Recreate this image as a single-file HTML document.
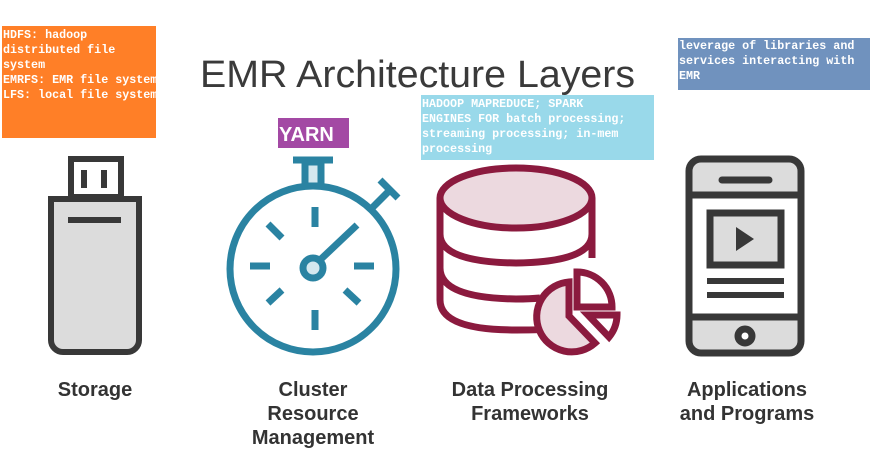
<!DOCTYPE html>
<html><head><meta charset="utf-8"><style>
html,body{margin:0;padding:0;background:#fff;width:870px;height:456px;overflow:hidden}
svg{display:block}
.m{font-family:"Liberation Mono",monospace;font-weight:bold;font-size:11.7px;fill:#fff}
.l{font-family:"Liberation Sans",sans-serif;font-weight:bold;font-size:20px;fill:#333;text-anchor:middle}
</style></head><body>
<svg width="870" height="456" viewBox="0 0 870 456" xmlns="http://www.w3.org/2000/svg">
<!-- orange note -->
<rect x="2" y="26" width="154" height="112" fill="#ff7f27"/>
<text class="m" x="3" y="38">HDFS: hadoop</text>
<text class="m" x="3" y="53">distributed file</text>
<text class="m" x="3" y="68">system</text>
<text class="m" x="3" y="83">EMRFS: EMR file system</text>
<text class="m" x="3" y="98">LFS: local file system</text>
<!-- title -->
<text x="200" y="87" font-family="Liberation Sans,sans-serif" font-size="38" fill="#3a3a3a" textLength="435" lengthAdjust="spacingAndGlyphs">EMR Architecture Layers</text>
<!-- yarn -->
<rect x="278" y="118" width="71" height="30" fill="#a349a4"/>
<text x="279" y="141" font-family="Liberation Sans,sans-serif" font-weight="bold" font-size="20" fill="#fff">YARN</text>
<!-- light blue note -->
<rect x="421" y="95" width="233" height="65" fill="#99d9ea"/>
<text class="m" x="422" y="107">HADOOP MAPREDUCE; SPARK</text>
<text class="m" x="422" y="122">ENGINES FOR batch processing;</text>
<text class="m" x="422" y="137">streaming processing; in-mem</text>
<text class="m" x="422" y="152">processing</text>
<!-- steel blue note -->
<rect x="678" y="38" width="192" height="52" fill="#7092be"/>
<text class="m" x="679" y="49">leverage of libraries and</text>
<text class="m" x="679" y="64">services interacting with</text>
<text class="m" x="679" y="79">EMR</text>

<!-- USB -->
<g stroke="#383838" stroke-width="6" fill="none">
<rect x="71" y="159" width="50" height="38" fill="#fff"/>
<path d="M51 199 H139 V340 a12 12 0 0 1 -12 12 H63 a12 12 0 0 1 -12 -12 Z" fill="#dcdcdc"/>
<line x1="68" y1="220" x2="121" y2="220"/>
<line x1="84" y1="170" x2="84" y2="188"/>
<line x1="104" y1="170" x2="104" y2="188"/>
</g>

<!-- stopwatch -->
<g stroke="#2a83a2" stroke-width="7" fill="none">
<rect x="305" y="162" width="16" height="24" fill="#d4e8ef"/>
<line x1="293" y1="160" x2="333" y2="160"/>
<circle cx="313" cy="269" r="83" fill="#fff"/>
<line x1="371" y1="209" x2="390" y2="190"/>
<line x1="380" y1="180" x2="398" y2="198"/>
<line x1="315" y1="207" x2="315" y2="227"/>
<line x1="315" y1="310" x2="315" y2="330"/>
<line x1="250" y1="266" x2="270" y2="266"/>
<line x1="354" y1="266" x2="374" y2="266"/>
<line x1="268" y1="224" x2="282" y2="238"/>
<line x1="268" y1="303" x2="282" y2="290"/>
<line x1="345" y1="290" x2="359" y2="303"/>
<line x1="320" y1="260" x2="357" y2="225"/>
<circle cx="313" cy="268" r="10" fill="#d4e8ef"/>
</g>

<!-- database -->
<g stroke="#8b1a3e" stroke-width="7" fill="none">
<path d="M440 198 V300 Q440 330 516 330 Q545 330 550 329"/>
<path d="M440 234 Q440 262 516 263 Q592 262 592 234"/>
<path d="M440 268 Q440 298 516 299 Q530 299 540 298"/>
<line x1="592" y1="198" x2="592" y2="258"/>
<ellipse cx="516" cy="198" rx="76" ry="30" fill="#ecd9df"/>
<path d="M569 282 A35 35 0 1 0 595 343 L569 316 Z" fill="#ecd9df"/>
<path d="M577 272 A35 35 0 0 1 612 307 L577 307 Z" fill="#fff"/>
<path d="M588 315 L617 315 A35 35 0 0 1 609 337 Z" fill="#fff"/>
</g>

<!-- phone -->
<rect x="689" y="159" width="112" height="194" rx="12" fill="#dcdcdc"/>
<rect x="689" y="195" width="112" height="122" fill="#fff"/>
<g stroke="#383838" stroke-width="7" fill="none">
<rect x="689" y="159" width="112" height="194" rx="12"/>
<line x1="689" y1="195" x2="801" y2="195"/>
<line x1="689" y1="317" x2="801" y2="317"/>
<line x1="722" y1="180" x2="769" y2="180" stroke-linecap="round"/>
<rect x="710" y="213" width="71" height="52" fill="#dcdcdc"/>
<line x1="707" y1="281" x2="784" y2="281" stroke-width="6"/>
<line x1="707" y1="295" x2="784" y2="295" stroke-width="6"/>
<circle cx="745" cy="336" r="7" fill="#fff"/>
</g>
<path d="M736 227 L736 251 L754 239 Z" fill="#383838"/>

<!-- labels -->
<text class="l" x="95" y="396">Storage</text>
<text class="l" x="313" y="396">Cluster</text>
<text class="l" x="313" y="420">Resource</text>
<text class="l" x="313" y="444">Management</text>
<text class="l" x="530" y="396">Data Processing</text>
<text class="l" x="530" y="420">Frameworks</text>
<text class="l" x="747" y="396">Applications</text>
<text class="l" x="747" y="420">and Programs</text>
</svg>
</body></html>
